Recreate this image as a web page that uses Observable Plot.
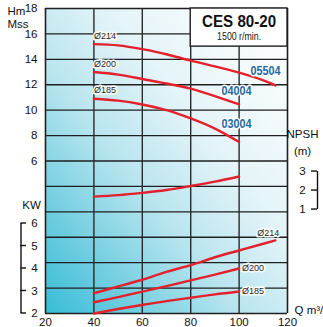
<!DOCTYPE html>
<html><head><meta charset="utf-8">
<script src="https://cdn.jsdelivr.net/npm/d3@7"></script>
<script src="https://cdn.jsdelivr.net/npm/@observablehq/plot@0.6"></script>
<style>body{margin:0;background:#fff;} svg{display:block}</style>
</head><body><div id="chart"></div>
<script>
// ---- data ----
const flowLong = [40,50,60,70,80,90,100,110,115];
const flow = [40,50,60,70,80,90,100];
const head214 = [15.2,15.1,14.8,14.4,13.9,13.45,12.95,12.35,11.95];
const head200 = [13.0,12.8,12.45,12.1,11.7,11.1,10.45];
const head185 = [10.9,10.75,10.45,10.0,9.35,8.55,7.5];
const npshVals = [1.68,1.76,1.88,2.03,2.24,2.47,2.74];
const power214 = [2.9,3.2,3.5,3.85,4.15,4.5,4.8,5.1,5.25];
const power200 = [2.5,2.73,2.97,3.22,3.47,3.73,4.0];
const power185 = [2.0,2.2,2.38,2.55,2.7,2.85,2.98];
const headTicks = [18,16,14,12,10,8,6];
const gridY = [-6,-4,-2,0,2,4,6,8,10,12,14,16,18];
const gridX = [40,60,80,100];
const xTicks = [20,40,60,80,100,120];
const kwTicks = [2,3,4,5,6];
const npshTicks = [1,2,3];
const models = ["05504","04004","03004"];
const diam = ["Ø214","Ø200","Ø185"];
const title = "CES 80-20";
const subtitle = "1500 r/min.";

// secondary scales mapped into head units
const kw = k => -6 + (k - 2) * 1.7705;
const np = v => 2.18 + (v - 1) * 1.495;

const headSeries = [
  ...flowLong.map((q,i)=>({q, v:head214[i], s:"214"})),
  ...flow.map((q,i)=>({q, v:head200[i], s:"200"})),
  ...flow.map((q,i)=>({q, v:head185[i], s:"185"}))
];
const powerSeries = [
  ...flowLong.map((q,i)=>({q, v:kw(power214[i]), s:"214"})),
  ...flow.map((q,i)=>({q, v:kw(power200[i]), s:"200"})),
  ...flow.map((q,i)=>({q, v:kw(power185[i]), s:"185"}))
];
const npshSeries = flow.map((q,i)=>({q, v:np(npshVals[i])}));

const red = "#e3202b", grid = "#1f1f1f", blue = "#1b6aa5", ink = "#111";
const font = "'Liberation Sans', Arial, sans-serif";
const halo = {stroke: "white", strokeWidth: 3, paintOrder: "stroke"};

const svg = Plot.plot({
  width: 323, height: 327,
  marginLeft: 45, marginRight: 36, marginTop: 8, marginBottom: 14,
  x: {type: "linear", domain: [20,120], axis: null},
  y: {type: "linear", domain: [-6,18], axis: null},
  style: {fontFamily: font, fontSize: "11px", background: "transparent", overflow: "visible"},
  marks: [
    Plot.rect([0], {x1: 20, x2: 120, y1: -6, y2: 18, fill: "url(#bg)"}),
    Plot.ruleY(gridY, {x1: 20, x2: 120, stroke: grid, strokeWidth: 1.4}),
    Plot.ruleX(gridX, {y1: -6, y2: 18, stroke: "#2a2a2a", strokeWidth: 1.4}),
    Plot.ruleX([20,120], {y1: -6, y2: 18, stroke: grid, strokeWidth: 1.6}),
    // title box
    Plot.rect([0], {x1: 80, x2: 120, y1: 15.0, y2: 18, fill: "white", stroke: grid, strokeWidth: 1.4}),
    Plot.text([title], {x: 100, y: 18, dy: 13, text: d=>d, fontWeight: "bold", fontSize: 17, fill: ink, className: "t-title"}),
    Plot.text([subtitle], {x: 100, y: 18, dy: 28, text: d=>d, fontSize: 10, fill: "#222", className: "t-sub"}),
    // curves
    Plot.line(headSeries, {x: "q", y: "v", z: "s", stroke: red, strokeWidth: 2.4, curve: "natural"}),
    Plot.line(powerSeries, {x: "q", y: "v", z: "s", stroke: red, strokeWidth: 2.4, curve: "natural"}),
    Plot.line(npshSeries, {x: "q", y: "v", stroke: red, strokeWidth: 2.4, curve: "natural"}),
    // diameter labels (head)
    Plot.text(diam, {x: 40, y: [15.8, 13.6, 11.55], text: d=>d, textAnchor: "start", fontSize: 9, fill: "#222", ...halo}),
    // diameter labels (power)
    Plot.text(diam.slice(0,1), {x: 107.5, y: kw(5.56), text: d=>d, textAnchor: "start", fontSize: 9, fill: "#222", ...halo}),
    Plot.text(diam.slice(1), {x: 100, y: [kw(power200[6]), kw(power185[6])], text: d=>d, textAnchor: "start", dx: 3, fontSize: 9, fill: "#222", ...halo}),
    // model labels
    Plot.text(models, {x: [110.9, 98.9, 98.9], y: [13.1, 11.55, 8.95], text: d=>d, fontWeight: "bold", fontSize: 13, fill: blue, ...halo, className: "t-model"}),
    // left head axis
    Plot.text(headTicks, {x: 20, y: d=>d, text: d=>String(d), dx: -8, textAnchor: "end", fontSize: 11.5, fill: ink}),
    Plot.text(["Hm"], {x: 20, y: 18, dy: 3, dx: -38, textAnchor: "start", text: d=>d, fontSize: 11.5, fill: ink}),
    Plot.text(["Mss"], {x: 20, y: 18, dy: 16, dx: -38, textAnchor: "start", text: d=>d, fontSize: 11.5, fill: ink}),
    // KW axis
    Plot.ruleX([20], {y1: kw(2), y2: kw(6), dx: -24.5, stroke: ink, strokeWidth: 1.4}),
    Plot.text(kwTicks, {x: 20, y: d=>kw(d), text: d=>String(d), dx: -11, fontSize: 11.5, fill: ink}),
    Plot.text(["KW"], {x: 20, y: kw(6.8), dx: -14, text: d=>d, fontSize: 11.5, fill: ink}),
    // NPSH axis
    Plot.text(["NPSH"], {x: 120, y: np(4.95), dx: 15, text: d=>d, fontSize: 11.5, fill: ink}),
    Plot.text(["(m)"], {x: 120, y: np(4.05), dx: 15, text: d=>d, fontSize: 11.5, fill: ink}),
    Plot.text(npshTicks, {x: 120, y: d=>np(d), dx: 15, text: d=>String(d), fontSize: 11.5, fill: ink}),
    Plot.ruleX([120], {y1: np(1), y2: np(3), dx: 30, stroke: ink, strokeWidth: 1.4}),
    // bottom axis
    Plot.text(xTicks, {x: d=>d, y: -6, dy: 9, text: d=>String(d), fontSize: 11.5, fill: ink}),
    Plot.text(["Q m³/h"], {x: 120, y: -6, dy: -3, dx: 7, textAnchor: "start", text: d=>d, fontSize: 11.5, fill: ink})
  ]
});

const s = d3.select(svg);
const defs = s.insert("defs", ":first-child");
const g = defs.append("linearGradient").attr("id","bg").attr("x1","0").attr("y1","1").attr("x2","0.9").attr("y2","0.1");
[[0,"#36bdd7"],[0.2,"#6fcde0"],[0.45,"#b9e5ef"],[0.7,"#e4f4f8"],[1,"#fafdfe"]].forEach(([o,c])=>g.append("stop").attr("offset",o).attr("stop-color",c));
document.getElementById("chart").appendChild(svg);

// condense the title and model labels
s.selectAll(".t-title text").attr("textLength", 74).attr("lengthAdjust", "spacingAndGlyphs");
s.selectAll(".t-sub text").attr("textLength", 44).attr("lengthAdjust", "spacingAndGlyphs");
s.selectAll(".t-model text").attr("textLength", 30).attr("lengthAdjust", "spacingAndGlyphs");

// short tick marks for the KW and NPSH brackets, positioned with Plot's scales
const xs = svg.scale("x"), ys = svg.scale("y");
const xl = xs.apply(20), xr = xs.apply(120);
kwTicks.forEach(t => {
  s.append("line").attr("x1", xl - 24.5).attr("x2", xl - 19).attr("y1", ys.apply(kw(t))).attr("y2", ys.apply(kw(t))).attr("stroke", ink).attr("stroke-width", 1.4);
});
npshTicks.forEach(t => {
  s.append("line").attr("x1", xr + 24).attr("x2", xr + 30).attr("y1", ys.apply(np(t))).attr("y2", ys.apply(np(t))).attr("stroke", ink).attr("stroke-width", 1.4);
});
</script>
</body></html>
